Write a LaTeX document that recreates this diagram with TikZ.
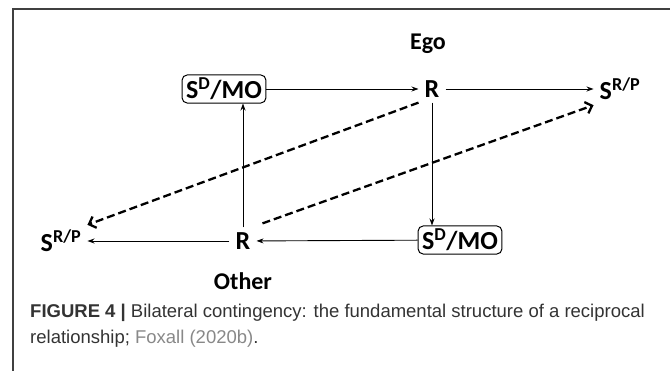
\documentclass[tikz,border=0pt]{standalone}
\usepackage{fontspec}
\setmainfont{Carlito}
\newfontfamily\capfont{Liberation Sans}
\usetikzlibrary{positioning,arrows.meta}
\definecolor{captxt}{HTML}{333333}
\definecolor{capref}{HTML}{888888}

\begin{document}
\begin{tikzpicture}[x=1pt,y=-1pt,
  lbl/.style={font=\fontsize{26}{28}\selectfont\bfseries,inner xsep=6pt,inner ysep=5pt},
  side/.style={font=\fontsize{24}{26}\selectfont\bfseries},
  mobox/.style={lbl,draw,rounded corners=5pt,line width=1pt,inner xsep=4pt,inner ysep=3pt},
  link/.style={-{Stealth[length=7pt,width=5pt]},line width=0.9pt},
  dlink/.style={-{Straight Barb[length=6pt,width=12pt]},line width=2.3pt,dash pattern=on 8pt off 4pt}]
\useasboundingbox (0,0) rectangle (670,371);
% frame
\draw[line width=1.3pt,black!75] (670,9) -- (13,9) -- (13,371);
% ego side
\node[side] (ego) at (428,44) {Ego};
\node[mobox] (mo1) at (224,89) {S\textsuperscript{D}/MO};
\node[lbl] (r1) at (432,89) {R};
\node[lbl] (s1) at (620,89) {S\textsuperscript{R/P}};
% other side
\node[lbl] (s2) at (61,241) {S\textsuperscript{R/P}};
\node[lbl] (r2) at (243,241) {R};
\node[mobox] (mo2) at (460,240) {S\textsuperscript{D}/MO};
\node[side] (other) at (243,281) {Other};
% contingencies
\draw[link] (mo1) -- (r1);
\draw[link] (r1) -- (s1);
\draw[link] (r1.south) -- (r1.south |- mo2.north);
\draw[link] (mo2) -- (r2);
\draw[link] (r2) -- (s2);
\draw[link] (r2.north) -- (r2.north |- mo1.south);
\draw[dlink] (r1.south west) -- (s2.north east);
\draw[dlink] ([xshift=6pt,yshift=4pt]r2.north east) -- (s1.south west);
% caption
\node[anchor=north west,align=left,inner sep=0pt,text=captxt,
  font=\capfont\fontsize{18.5}{26}\selectfont] (cap) at (30,304)
  {\textbf{FIGURE 4 |} Bilateral contingency: the fundamental structure of a reciprocal\\
   relationship; \textcolor{capref}{Foxall (2020b)}.};
\end{tikzpicture}
\end{document}
